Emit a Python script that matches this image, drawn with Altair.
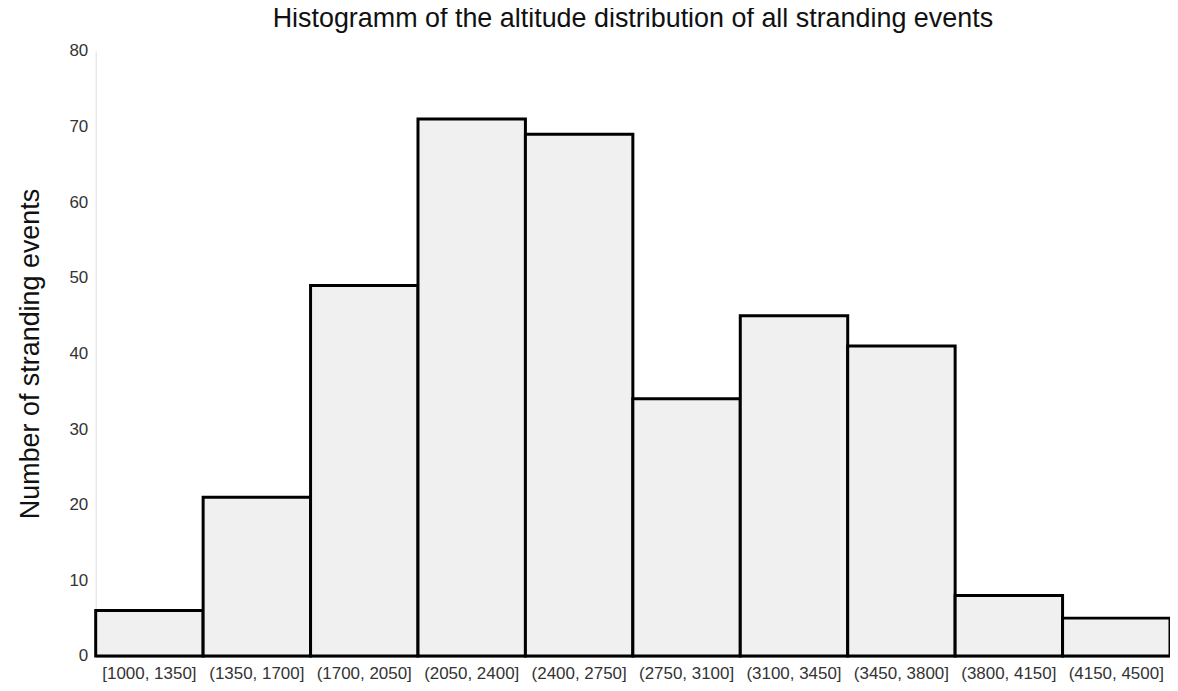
import altair as alt
import pandas as pd

bins = ["[1000, 1350]", "(1350, 1700]", "(1700, 2050]", "(2050, 2400]", "(2400, 2750]",
        "(2750, 3100]", "(3100, 3450]", "(3450, 3800]", "(3800, 4150]", "(4150, 4500]"]
counts = [6, 21, 49, 71, 69, 34, 45, 41, 8, 5]

df = pd.DataFrame({"bin": bins, "count": counts})

chart = alt.Chart(df).mark_bar(
    fill="#f0f0f0", stroke="black", strokeWidth=3, strokeJoin="miter"
).encode(
    x=alt.X("bin:N", sort=bins, title=None,
            scale=alt.Scale(paddingInner=0, paddingOuter=0, round=False),
            axis=alt.Axis(labelAngle=0, ticks=False, domainColor="#999999", domainWidth=2,
                          labelFontSize=17, labelColor="#333333", labelFont="Liberation Sans",
                          labelPadding=10)),
    y=alt.Y("count:Q", title="Number of stranding events",
            scale=alt.Scale(domain=[0, 80], nice=False),
            axis=alt.Axis(values=list(range(0, 90, 10)), grid=False, ticks=False,
                          domainColor="#dddddd", labelFontSize=17, labelColor="#333333",
                          labelFont="Liberation Sans", labelPadding=8,
                          titleFontSize=27, titleFont="Liberation Sans", titleFontWeight="normal",
                          titleColor="#111111", titlePadding=24)),
).properties(
    width=1078, height=607,
    title=alt.TitleParams("Histogramm of the altitude distribution of all stranding events",
                          fontSize=27, font="Liberation Sans", fontWeight="normal",
                          color="#111111", offset=9, anchor="middle"),
    autosize=alt.AutoSizeParams(type="none"),
    padding={"left": 88, "top": 42, "right": 0, "bottom": 27},
).configure_view(stroke=None)

chart.save("out.html", embed_options={"renderer": "svg", "actions": False})
